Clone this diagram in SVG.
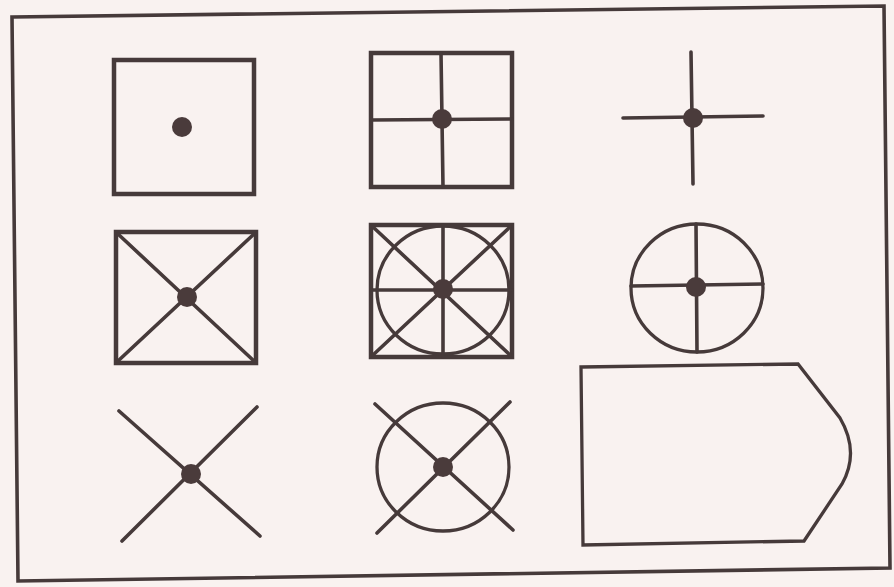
<svg xmlns="http://www.w3.org/2000/svg" width="894" height="587" viewBox="0 0 894 587">
<style>
.s{fill:none;stroke:#463a3a;stroke-width:4.5;stroke-linejoin:miter}
.t{fill:none;stroke:#463a3a;stroke-width:3.6;stroke-linecap:round}
.c{fill:none;stroke:#463a3a;stroke-width:3.3}
.f{fill:none;stroke:#463a3a;stroke-width:3.6}
.d{fill:#4a3b3b}
</style>
<rect width="894" height="587" fill="#f9f2f0"/>
<polygon id="frame" class="f" points="12,17 884,6 890,568 18,581"/>
<g id="n1">
<rect class="s" x="114" y="60" width="140" height="134"/>
<circle class="d" cx="182" cy="127" r="10"/>
</g>
<g id="n2">
<rect class="s" x="371" y="53" width="141" height="134"/>
<line class="t" x1="441" y1="53" x2="443" y2="187"/>
<line class="t" x1="371" y1="120" x2="512" y2="119"/>
<circle class="d" cx="442" cy="119" r="10"/>
</g>
<g id="n3">
<line class="t" x1="623" y1="118" x2="763" y2="116"/>
<line class="t" x1="691" y1="52" x2="693" y2="184"/>
<circle class="d" cx="693" cy="118" r="10"/>
</g>
<g id="n4">
<rect class="s" x="116" y="232" width="140" height="131"/>
<line class="t" x1="118" y1="234" x2="254" y2="361"/>
<line class="t" x1="254" y1="234" x2="118" y2="361"/>
<circle class="d" cx="187" cy="297" r="10"/>
</g>
<g id="n5">
<rect class="s" x="371" y="225" width="141" height="132"/>
<ellipse class="c" cx="443" cy="290" rx="66" ry="64"/>
<line class="t" x1="443" y1="225" x2="443" y2="357"/>
<line class="t" x1="371" y1="290" x2="512" y2="290"/>
<line class="t" x1="373" y1="227" x2="510" y2="355"/>
<line class="t" x1="510" y1="227" x2="373" y2="355"/>
<circle class="d" cx="443" cy="289" r="10"/>
</g>
<g id="n6">
<ellipse class="c" cx="697" cy="288" rx="66" ry="64"/>
<line class="t" x1="696" y1="224" x2="697" y2="352"/>
<line class="t" x1="631" y1="286" x2="763" y2="284"/>
<circle class="d" cx="696" cy="287" r="10"/>
</g>
<g id="n7">
<line class="t" x1="119" y1="411" x2="260" y2="536"/>
<line class="t" x1="257" y1="407" x2="122" y2="541"/>
<circle class="d" cx="191" cy="474" r="10"/>
</g>
<g id="n8">
<ellipse class="c" cx="443" cy="467" rx="66" ry="64"/>
<line class="t" x1="375" y1="404" x2="513" y2="530"/>
<line class="t" x1="510" y1="402" x2="377" y2="533"/>
<circle class="d" cx="443" cy="467" r="10"/>
</g>
<g id="n9">
<path class="c" d="M581,367 L798,364 L840,418 Q860,452 842,484 L804,541 L583,545 Z"/>
</g>
</svg>
